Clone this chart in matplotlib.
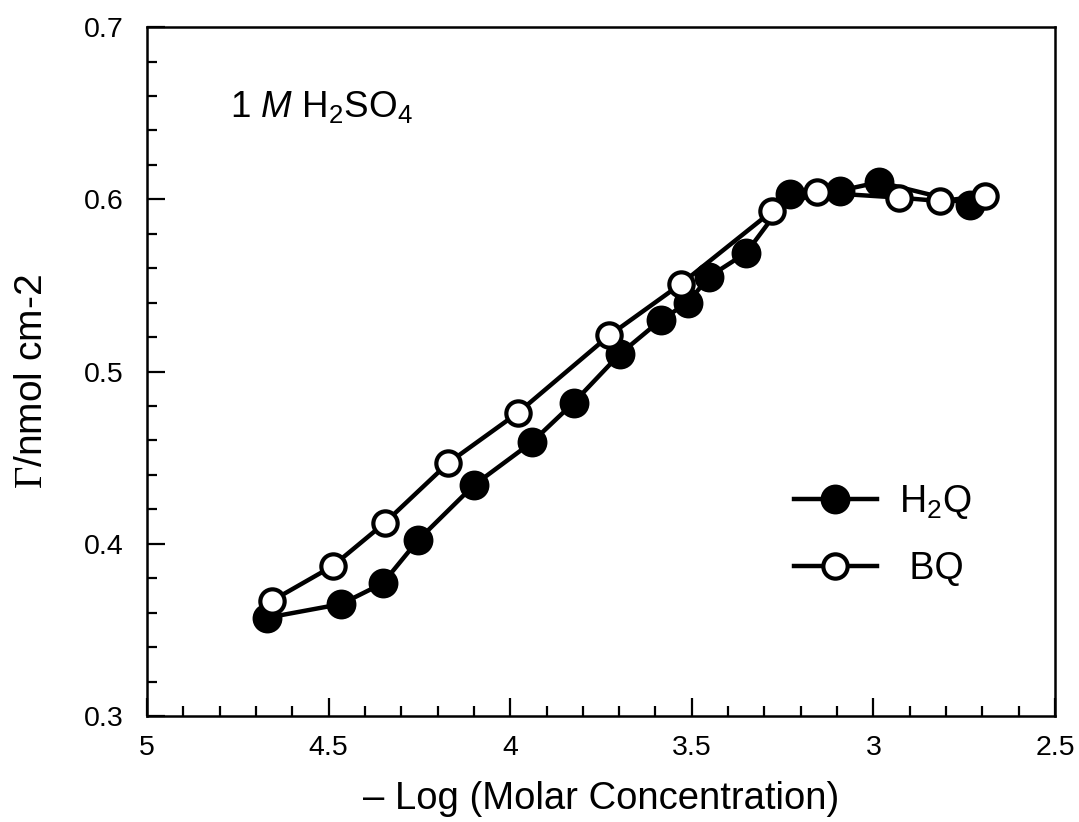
import matplotlib
matplotlib.use("Agg")
import matplotlib.pyplot as plt
from matplotlib.ticker import MultipleLocator

plt.rcParams['font.family'] = ['Liberation Sans', 'DejaVu Sans']
plt.rcParams['mathtext.fontset'] = 'custom'
plt.rcParams['mathtext.rm'] = 'Liberation Serif'
plt.rcParams['mathtext.sf'] = 'Liberation Sans'
plt.rcParams['mathtext.it'] = 'Liberation Sans:italic'

# Data: -log(molar concentration) vs surface coverage Gamma (nmol cm^-2)
h2q_x = [4.670, 4.465, 4.351, 4.254, 4.100, 3.940, 3.825, 3.699, 3.585, 3.511,
         3.453, 3.350, 3.230, 3.093, 2.984, 2.734]
h2q_y = [0.357, 0.365, 0.377, 0.402, 0.434, 0.459, 0.482, 0.510, 0.530, 0.540,
         0.555, 0.569, 0.603, 0.605, 0.610, 0.597]

bq_x = [4.655, 4.489, 4.346, 4.170, 3.979, 3.727, 3.529, 3.280, 3.154, 2.929,
        2.817, 2.692]
bq_y = [0.367, 0.387, 0.412, 0.447, 0.476, 0.521, 0.551, 0.593, 0.604, 0.601,
        0.599, 0.602]

x_ticks = [5, 4.5, 4, 3.5, 3, 2.5]
x_ticklabels = ['5', '4.5', '4', '3.5', '3', '2.5']
y_ticks = [0.3, 0.4, 0.5, 0.6, 0.7]
y_ticklabels = ['0.3', '0.4', '0.5', '0.6', '0.7']

fig = plt.figure(figsize=(10.79, 8.22), dpi=100)
ax = fig.add_axes([0.1362, 0.129, 0.8416, 0.838])

ax.plot(h2q_x, h2q_y, '-o', color='black', lw=3.2, ms=20, mfc='black',
        mec='black', mew=1.5, label=r'H$_\mathsf{2}$Q', zorder=3)
ax.plot(bq_x, bq_y, '-o', color='black', lw=3.2, ms=17.5, mfc='white',
        mec='black', mew=3, label=' BQ', zorder=4)

ax.set_xlim(5, 2.5)
ax.set_ylim(0.3, 0.7)
ax.set_xticks(x_ticks)
ax.set_xticklabels(x_ticklabels)
ax.set_yticks(y_ticks)
ax.set_yticklabels(y_ticklabels)
ax.xaxis.set_minor_locator(MultipleLocator(0.1))
ax.yaxis.set_minor_locator(MultipleLocator(0.02))

ax.tick_params(which='both', direction='in', top=False, right=False,
               labelsize=20.5, width=1.6)
ax.tick_params(which='major', length=13)
ax.tick_params(which='minor', length=7)
ax.tick_params(axis='x', which='major', pad=14)
ax.tick_params(axis='y', which='major', pad=17)
for s in ax.spines.values():
    s.set_linewidth(1.8)

ax.set_xlabel('– Log (Molar Concentration)', fontsize=27.5, labelpad=14)
ax.set_ylabel(r'$\Gamma$/nmol cm-2', fontsize=28, labelpad=24)
ax.yaxis.label.set_y(0.485)

ax.text(0.0915, 0.869, r'1 $\mathit{M}$ H$_\mathsf{2}$SO$_\mathsf{4}$',
        transform=ax.transAxes, fontsize=26.5, ha='left', va='baseline')

leg = ax.legend(loc='center left', bbox_to_anchor=(0.692, 0.262), frameon=False,
                fontsize=27, handlelength=2.2, handletextpad=0.6,
                labelspacing=0.8, borderpad=0)

fig.savefig('out.png', dpi=100)
